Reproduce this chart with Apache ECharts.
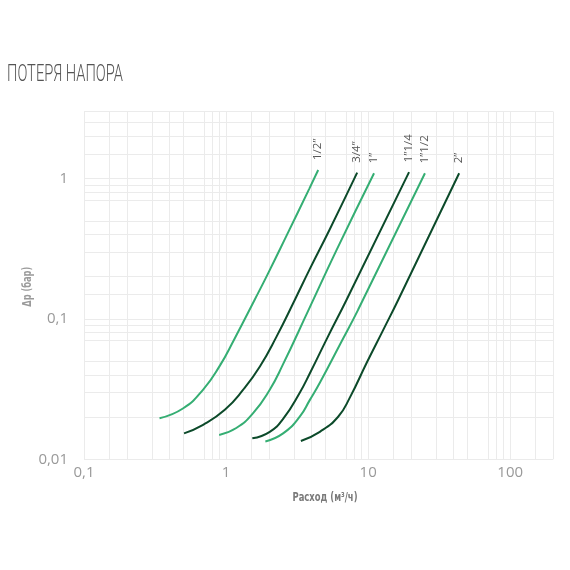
<!DOCTYPE html>
<html>
<head>
<meta charset="utf-8">
<title>Потеря напора</title>
<script src="https://cdn.jsdelivr.net/npm/echarts@6/dist/echarts.min.js"></script>
<style>
  html, body { margin: 0; padding: 0; background: #fff; }
  #chart { width: 570px; height: 570px; }
</style>
</head>
<body>
<div id="chart"></div>
<script>
  // подписи кривых (диаметр)
  const sizes = ['1/2”', '3/4”', '1”', '1”1/4', '1”1/2', '2”']

  // расход, м3/ч и потеря давления, бар
  const flow12 = [0.34, 0.50, 0.69, 0.90, 1.15, 1.59, 1.98, 2.66, 3.84, 4.45]
  const dp12 = [0.0196, 0.0231, 0.0314, 0.0461, 0.0726, 0.137, 0.212, 0.39, 0.84, 1.15]

  const flow34 = [0.506, 0.689, 0.98, 1.32, 1.73, 2.27, 3.05, 3.88, 5.37, 8.37]
  const dp34 = [0.0153, 0.0176, 0.0225, 0.0313, 0.0458, 0.0751, 0.137, 0.226, 0.435, 1.10]

  const flow1 = [0.894, 1.18, 1.55, 2.03, 2.51, 3.78, 6.0, 11.0]
  const dp1 = [0.0149, 0.0167, 0.0213, 0.0313, 0.0472, 0.114, 0.31, 1.09]

  const flow114 = [1.53, 2.03, 2.55, 3.30, 3.89, 5.2, 7.05, 19.4]
  const dp114 = [0.0141, 0.0157, 0.0197, 0.0298, 0.0410, 0.0745, 0.137, 1.11]

  const flow112 = [1.89, 2.52, 3.30, 3.89, 4.57, 6.32, 8.51, 25.1]
  const dp112 = [0.0134, 0.0153, 0.0201, 0.0265, 0.0351, 0.0655, 0.1165, 1.09]

  const flow2 = [3.36, 4.57, 6.15, 7.43, 9.75, 12.8, 16.3, 43.7]
  const dp2 = [0.0135, 0.0157, 0.0201, 0.0275, 0.0485, 0.0839, 0.137, 1.09]

  // подписи осей
  const xTickValues = [0.1, 1, 10, 100]
  const xTickLabels = ['0,1', '1', '10', '100']
  const yTickValues = [0.01, 0.1, 1]
  const yTickLabels = ['0,01', '0,1', '1']

  // линии сетки
  const xGrid = [0.1, 0.15, 0.2, 0.3, 0.4, 0.5, 0.7, 0.8, 0.9,
    1, 1.5, 2, 3, 4, 5, 7, 8, 9,
    10, 15, 20, 30, 40, 50, 70, 80, 90,
    100, 150, 200]
  const yGrid = [0.01, 0.015, 0.02, 0.03, 0.04, 0.05, 0.07, 0.08, 0.09,
    0.1, 0.15, 0.2, 0.3, 0.4, 0.5, 0.7, 0.8, 0.9,
    1, 1.5, 2, 2.5, 3]

  const light = '#35ae73'
  const dark = '#0c4a2a'

  function tickFormatter(values, labels) {
    return function (v) {
      for (let i = 0; i < values.length; i++) {
        if (Math.abs(v - values[i]) < values[i] * 1e-6) return labels[i]
      }
      return ''
    }
  }

  // подгоняем ширину узкого шрифта под оригинал
  function fitScale(text, font, width) {
    const ctx = document.createElement('canvas').getContext('2d')
    ctx.font = font
    return width / ctx.measureText(text).width
  }

  function curve(name, flow, dp, color) {
    const last = flow.length - 1
    return {
      type: 'line',
      name: name,
      z: 3,
      silent: true,
      smooth: 0.5,
      symbol: 'circle',
      symbolSize: 0,
      showSymbol: true,
      lineStyle: { width: 2, color: color },
      itemStyle: { color: color },
      emphasis: { disabled: true },
      data: flow.map((q, i) => {
        if (i !== last) return [q, dp[i]]
        return {
          value: [q, dp[i]],
          label: {
            show: true,
            formatter: name,
            position: 'top',
            distance: 10,
            rotate: 90,
            align: 'left',
            verticalAlign: 'middle',
            fontSize: 11.5,
            fontFamily: 'Open Sans',
            color: '#555'
          }
        }
      })
    }
  }

  function initChart() {
    const chart = echarts.init(document.getElementById('chart'), null, { renderer: 'canvas' })

    const titleText = 'ПОТЕРЯ НАПОРА'
    const titleFont = '300 23px Roboto'
    const xNameText = 'Расход (м³/ч)'
    const xNameFont = 'bold 13px "Liberation Sans Narrow", "DejaVu Sans Condensed", sans-serif'
    const yNameText = 'Δp (бар)'
    const yNameFont = 'bold 12px "Liberation Sans Narrow", "DejaVu Sans Condensed", sans-serif'

    chart.setOption({
      animation: false,
      grid: {
        left: 84,
        right: 17,
        top: 111.5,
        bottom: 110.7
      },
      xAxis: {
        type: 'log',
        logBase: 10,
        min: 0.1,
        max: 200,
        axisLine: { show: false },
        axisTick: { show: false },
        splitLine: { show: false },
        minorSplitLine: { show: false },
        axisLabel: {
          margin: 6,
          fontSize: 15,
          fontFamily: 'Open Sans',
          color: '#999',
          showMinLabel: true,
          showMaxLabel: true,
          formatter: tickFormatter(xTickValues, xTickLabels)
        }
      },
      yAxis: {
        type: 'log',
        logBase: 10,
        min: 0.01,
        max: 3,
        axisLine: { show: false },
        axisTick: { show: false },
        splitLine: { show: false },
        minorSplitLine: { show: false },
        axisLabel: {
          margin: 16,
          fontSize: 15,
          fontFamily: 'Open Sans',
          color: '#999',
          formatter: tickFormatter(yTickValues, yTickLabels)
        }
      },
      graphic: [
        {
          type: 'text',
          x: 7,
          y: 75,
          scaleX: fitScale(titleText, titleFont, 116),
          silent: true,
          style: {
            text: titleText,
            font: titleFont,
            fill: '#555',
            textAlign: 'left', align: 'left',
            textVerticalAlign: 'middle', verticalAlign: 'middle'
          }
        },
        {
          type: 'text',
          x: 325,
          y: 498,
          scaleX: fitScale(xNameText, xNameFont, 65),
          silent: true,
          style: {
            text: xNameText,
            font: xNameFont,
            fill: '#7a7a7a',
            textAlign: 'center', align: 'center',
            textVerticalAlign: 'middle', verticalAlign: 'middle'
          }
        },
        {
          type: 'text',
          x: 27.5,
          y: 286.7,
          rotation: Math.PI / 2,
          scaleX: fitScale(yNameText, yNameFont, 40),
          silent: true,
          style: {
            text: yNameText,
            font: yNameFont,
            fill: '#9a9a9a',
            textAlign: 'center', align: 'center',
            textVerticalAlign: 'middle', verticalAlign: 'middle'
          }
        }
      ],
      series: [
        {
          type: 'line',
          data: [],
          silent: true,
          z: 1,
          markLine: {
            silent: true,
            z: 1,
            animation: false,
            symbol: ['none', 'none'],
            label: { show: false },
            emphasis: { disabled: true },
            lineStyle: { color: '#ebebeb', width: 1, type: 'solid' },
            data: xGrid.map(v => ({ xAxis: v })).concat(yGrid.map(v => ({ yAxis: v })))
          }
        },
        curve(sizes[0], flow12, dp12, light),
        curve(sizes[1], flow34, dp34, dark),
        curve(sizes[2], flow1, dp1, light),
        curve(sizes[3], flow114, dp114, dark),
        curve(sizes[4], flow112, dp112, light),
        curve(sizes[5], flow2, dp2, dark)
      ]
    })
  }

  initChart()
</script>
</body>
</html>
